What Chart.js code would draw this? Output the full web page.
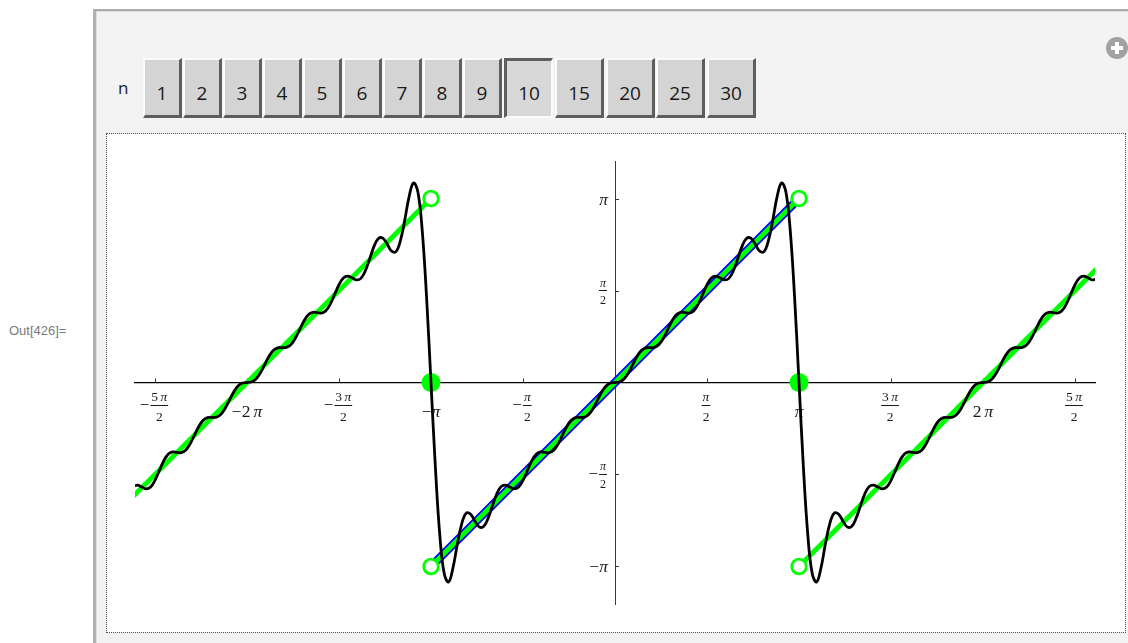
<!DOCTYPE html>
<html>
<head>
<meta charset="utf-8">
<script src="https://cdn.jsdelivr.net/npm/chart.js@4.4.1/dist/chart.umd.min.js"></script>
<style>
  html, body { margin: 0; padding: 0; width: 1128px; height: 643px; overflow: hidden; background: #fff; position: relative; }
  #outLabel { position: absolute; left: 9px; top: 323px; font: 13px/15px "Liberation Sans", Arial, sans-serif; color: #7a7a7a; white-space: nowrap; }
  #panel { position: absolute; left: 93px; top: 9px; width: 1100px; height: 700px; background: #f3f3f3;
           border-top: 2px solid #a9a9a9; border-left: 3px solid #b1b1b1; box-shadow: inset 1px 1px 0 #dedede; }
  #nLabel { position: absolute; left: 118px; top: 78px; font: 17px/20px "Open Sans", sans-serif; color: #222; }
  .btn { position: absolute; top: 58px; height: 60px; box-sizing: border-box; background: #d4d4d4;
         border-style: solid; border-width: 2px 3px 3px 2px; border-color: #fbfbfb #5e5e5e #5e5e5e #fbfbfb; }
  .btn span { position: absolute; left: 0; right: 0; top: 23px; text-align: center; font: 19px/20px "Open Sans", sans-serif; color: #1a1a1a; }
  .btn.on { border-width: 3px 2px 2px 3px; border-color: #5e5e5e #fbfbfb #fbfbfb #5e5e5e; background: #d8d8d8; }
  .btn.on span { top: 22px; }
  #plus { position: absolute; left: 1106px; top: 37px; width: 22px; height: 22px; border-radius: 50%; background: #a2a2a2; }
  #plus::before, #plus::after { content: ""; position: absolute; background: #fff; }
  #plus::before { left: 5px; top: 9.25px; width: 12px; height: 3.5px; }
  #plus::after { left: 9.25px; top: 5px; width: 3.5px; height: 12px; }
  #plot { position: absolute; left: 107px; top: 134px; width: 1018px; height: 498px; background: #fff; outline: 1px dotted #505050; }
  #plot canvas { display: block; }
</style>
</head>
<body>
<div id="panel"></div>
<div id="outLabel">Out[426]=</div>
<div id="nLabel">n</div>
<div id="plus"></div>
<div id="buttons"></div>
<div id="plot"><canvas id="chart" width="1018" height="498"></canvas></div>

<script>
// Choices offered by the n selector; 10 is the active one
const nChoices = ['1', '2', '3', '4', '5', '6', '7', '8', '9', '10', '15', '20', '25', '30'];
const nActive = '10';

// Partial Fourier sum (n = 10) of the sawtooth, sampled every π/42 starting at -110·π/42
const sampleStep = Math.PI / 42;
const firstSample = -110;
const partialSumY = [
  -1.778,-1.751,-1.786,-1.817,-1.785,-1.670,-1.502,-1.337,-1.225,-1.185,-1.193,-1.199,-1.157,-1.050,-0.900,-0.751,-0.646,-0.601,-0.597,-0.592,-0.546,-0.443,-0.300,-0.157,-0.054,-0.008,
  0,0.008,0.054,0.157,0.300,0.443,0.546,0.592,0.597,0.601,0.646,0.751,0.900,1.050,1.157,1.199,1.193,1.185,1.225,1.337,1.502,1.670,1.785,1.817,1.786,1.751,1.778,1.904,2.110,2.324,2.459,2.464,2.364,2.245,2.234,2.417,2.767,3.171,3.407,3.257,2.593,1.443,0,
  -1.443,-2.593,-3.257,-3.407,-3.171,-2.767,-2.417,-2.234,-2.245,-2.364,-2.464,-2.459,-2.324,-2.110,-1.904,-1.778,-1.751,-1.786,-1.817,-1.785,-1.670,-1.502,-1.337,-1.225,-1.185,-1.193,-1.199,-1.157,-1.050,-0.900,-0.751,-0.646,-0.601,-0.597,-0.592,-0.546,-0.443,-0.300,-0.157,-0.054,-0.008,
  0,0.008,0.054,0.157,0.300,0.443,0.546,0.592,0.597,0.601,0.646,0.751,0.900,1.050,1.157,1.199,1.193,1.185,1.225,1.337,1.502,1.670,1.785,1.817,1.786,1.751,1.778,1.904,2.110,2.324,2.459,2.464,2.364,2.245,2.234,2.417,2.767,3.171,3.407,3.257,2.593,1.443,0,
  -1.443,-2.593,-3.257,-3.407,-3.171,-2.767,-2.417,-2.234,-2.245,-2.364,-2.464,-2.459,-2.324,-2.110,-1.904,-1.778,-1.751,-1.786,-1.817,-1.785,-1.670,-1.502,-1.337,-1.225,-1.185,-1.193,-1.199,-1.157,-1.050,-0.900,-0.751,-0.646,-0.601,-0.597,-0.592,-0.546,-0.443,-0.300,-0.157,-0.054,-0.008,
  0,0.008,0.054,0.157,0.300,0.443,0.546,0.592,0.597,0.601,0.646,0.751,0.900,1.050,1.157,1.199,1.193,1.185,1.225,1.337,1.502,1.670,1.785,1.817,1.786,1.751,1.778
];

// The sawtooth itself: three linear pieces
const sawLeftX = [-8.3, -3.1416],  sawLeftY = [-2.0168, 3.1416];
const sawMidX = [-3.1416, 3.1416], sawMidY = [-3.1416, 3.1416];
const sawRightX = [3.1416, 8.3],   sawRightY = [-3.1416, 2.0168];
// The base period x on (-π, π)
const baseX = [-3.1416, 3.1416], baseY = [-3.1416, 3.1416];

// Endpoints of the pieces (open) and the values at the jumps (filled)
const openX = [-3.1416, 3.1416, -3.1416, 3.1416];
const openY = [3.1416, 3.1416, -3.1416, -3.1416];
const jumpX = [-3.1416, 3.1416];
const jumpY = [0, 0];

// Axis ticks, in multiples of π, with their labels
const xTickMultiples = [-2.5, -2, -1.5, -1, -0.5, 0.5, 1, 1.5, 2, 2.5];
const xTickLabels = ['−5π/2', '−2π', '−3π/2', '−π', '−π/2', 'π/2', 'π', '3π/2', '2π', '5π/2'];
const yTickMultiples = [-1, -0.5, 0.5, 1];
const yTickLabels = ['−π', '−π/2', 'π/2', 'π'];

const xRange = [-8.195, 8.195];
const yRange = [-3.782, 3.782];

// ---- selector buttons ----
const btnBox = document.getElementById('buttons');
let twoDigit = 0;
nChoices.forEach((label, i) => {
  const b = document.createElement('div');
  b.className = 'btn' + (label === nActive ? ' on' : '');
  if (label.length === 1) {
    b.style.left = (143 + 40 * i) + 'px';
    b.style.width = '39px';
  } else {
    b.style.left = (504 + Math.round(50.75 * twoDigit)) + 'px';
    b.style.width = '49px';
    twoDigit++;
  }
  const s = document.createElement('span');
  s.textContent = label;
  b.appendChild(s);
  btnBox.appendChild(b);
});

// ---- chart ----
const toPoints = (xs, ys) => xs.map((x, i) => ({ x, y: ys[i] }));
const curvePoints = partialSumY.map((y, i) => ({ x: (firstSample + i) * sampleStep, y }));

const GREEN = '#00ff00';
const SERIF = '"Liberation Serif", "DejaVu Serif", serif';

function drawMath(ctx, str, x, y, size, align) {
  const parts = [];
  let prevDigit = false;
  for (const ch of str) {
    const italic = ch === 'π';
    const font = (italic ? 'italic ' : '') + size + 'px ' + SERIF;
    ctx.font = font;
    const gap = (italic && prevDigit) ? size * 0.17 : 0;
    parts.push({ ch, font, w: ctx.measureText(ch).width, gap });
    prevDigit = /\d/.test(ch);
  }
  const total = parts.reduce((s, p) => s + p.w + p.gap, 0);
  let cx = align === 'center' ? x - total / 2 : align === 'right' ? x - total : x;
  parts.forEach(p => { cx += p.gap; ctx.font = p.font; ctx.fillText(p.ch, cx, y); cx += p.w; });
  return total;
}
function mathWidth(ctx, str, size) {
  let w = 0, prevDigit = false;
  for (const ch of str) {
    const italic = ch === 'π';
    ctx.font = (italic ? 'italic ' : '') + size + 'px ' + SERIF;
    if (italic && prevDigit) w += size * 0.17;
    w += ctx.measureText(ch).width;
    prevDigit = /\d/.test(ch);
  }
  return w;
}
// Stacked fraction with optional leading minus; (cx, barY) = anchor of the group on the bar line
function drawFraction(ctx, label, cx, barY, size, numDrop, denDrop, anchor) {
  const neg = label[0] === '−';
  const body = neg ? label.slice(1) : label;
  const [num, den] = body.split('/');
  const bw = Math.max(mathWidth(ctx, num, size), mathWidth(ctx, den, size)) + 2;
  ctx.font = '17px ' + SERIF;
  const mw = neg ? ctx.measureText('−').width + 1 : 0;
  const total = mw + bw;
  const left = anchor === 'right' ? cx - total : cx - total / 2;
  if (neg) {
    ctx.font = '17px ' + SERIF;
    ctx.fillText('−', left, barY + 4.5);
  }
  const bl = left + mw, bc = bl + bw / 2;
  ctx.fillRect(bl, barY - 0.5, bw, 1);
  drawMath(ctx, num, bc, barY - numDrop, size, 'center');
  drawMath(ctx, den, bc, barY + denDrop, size, 'center');
}

const axisDecor = {
  id: 'axisDecor',
  beforeDatasetsDraw(chart) {
    const { ctx, scales: { x, y } } = chart;
    const x0 = x.getPixelForValue(0), y0 = y.getPixelForValue(0);
    ctx.save();
    ctx.strokeStyle = '#333';
    ctx.lineWidth = 1;
    ctx.fillStyle = '#1a1a1a';
    ctx.textAlign = 'left';
    ctx.textBaseline = 'alphabetic';
    xTickMultiples.forEach((m, i) => {
      const px = x.getPixelForValue(m * Math.PI);
      const sx = Math.round(px) + 0.5;
      ctx.beginPath(); ctx.moveTo(sx, y0); ctx.lineTo(sx, y0 - 4); ctx.stroke();
      const lab = xTickLabels[i];
      if (lab.includes('/')) drawFraction(ctx, lab, px - 1, y0 + 23, 13.5, 5, 15.5, 'center');
      else drawMath(ctx, lab, px, y0 + 34, 17.5, 'center');
    });
    yTickMultiples.forEach((m, i) => {
      const py = y.getPixelForValue(m * Math.PI);
      const sy = Math.round(py) + 0.5;
      ctx.beginPath(); ctx.moveTo(x0, sy); ctx.lineTo(x0 + 4, sy); ctx.stroke();
      const lab = yTickLabels[i];
      if (lab.includes('/')) drawFraction(ctx, lab, x0 - 8, py, 12, 4, 13.5, 'right');
      else drawMath(ctx, lab, x0 - 7, py + 6, 17.5, 'right');
    });
    ctx.restore();
  }
};

const lineStyle = (color, width, order) => ({
  showLine: true, borderColor: color, borderWidth: width, pointRadius: 0, order,
  borderCapStyle: 'butt', borderJoinStyle: 'round'
});

new Chart(document.getElementById('chart'), {
  type: 'scatter',
  data: {
    datasets: [
      Object.assign({ data: curvePoints, tension: 0.4, borderCapStyle: 'round' }, lineStyle('#000', 2.8, 0)),
      { data: toPoints(openX, openY), showLine: false, pointRadius: 7.3, pointBorderWidth: 2.8,
        pointBorderColor: GREEN, pointBackgroundColor: '#fff', order: 1 },
      { data: toPoints(jumpX, jumpY), showLine: false, pointRadius: 9.5, pointBorderWidth: 0,
        pointBackgroundColor: GREEN, pointBorderColor: GREEN, order: 1 },
      Object.assign({ data: toPoints(sawLeftX, sawLeftY) }, lineStyle(GREEN, 5, 2)),
      Object.assign({ data: toPoints(sawMidX, sawMidY) }, lineStyle(GREEN, 5, 2)),
      Object.assign({ data: toPoints(sawRightX, sawRightY) }, lineStyle(GREEN, 5, 2)),
      Object.assign({ data: toPoints(baseX, baseY) }, lineStyle('#0000ff', 8.5, 3))
    ]
  },
  options: {
    responsive: false,
    animation: false,
    devicePixelRatio: 1,
    layout: { padding: { left: 28, right: 30, top: 27, bottom: 28 } },
    plugins: { legend: { display: false }, tooltip: { enabled: false } },
    elements: { point: { hoverRadius: 0 } },
    scales: {
      x: {
        type: 'linear', min: xRange[0], max: xRange[1], position: { y: 0 },
        ticks: { display: false }, grid: { display: false, drawTicks: false },
        border: { display: true, color: '#000', width: 1.3 }
      },
      y: {
        type: 'linear', min: yRange[0], max: yRange[1], position: { x: 0 },
        ticks: { display: false }, grid: { display: false, drawTicks: false },
        border: { display: true, color: '#3a3a3a', width: 1 }
      }
    }
  },
  plugins: [axisDecor]
});
</script>
</body>
</html>
